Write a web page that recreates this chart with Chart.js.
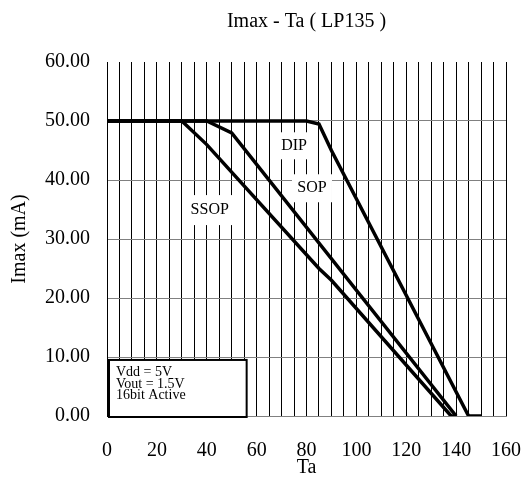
<!DOCTYPE html>
<html>
<head>
<meta charset="utf-8">
<script src="https://cdn.jsdelivr.net/npm/chart.js@4.4.1/dist/chart.umd.min.js"></script>
<style>
  body { margin: 0; background: #fff; }
  canvas { display: block; }
</style>
</head>
<body>
<canvas id="myChart" width="524" height="495"></canvas>
<script>
// datos
const dipTa  = [0, 80, 85, 90, 145, 150]
const dipI   = [50, 50, 49.5, 45, 0, 0]
const sopTa  = [0, 40, 50, 140]
const sopI   = [50, 50, 48, 0]
const ssopTa = [0, 30, 40, 85, 90, 138, 140]
const ssopI  = [50, 50, 46, 25, 23, 0, 0]

const xTickLabels = [0, 20, 40, 60, 80, 100, 120, 140, 160]
const noteLines = ['Vdd = 5V', 'Vout = 1.5V', '16bit Active']

const serif = '"Liberation Serif", "DejaVu Serif", serif'

const toPoints = (xs, ys) => xs.map((x, i) => ({ x, y: ys[i] }))

const serie = (label, xs, ys) => ({
    label,
    data: toPoints(xs, ys),
    borderColor: '#000',
    borderWidth: 3.5,
    pointRadius: 0,
    tension: 0,
    fill: false
})

// titulo, etiquetas de las curvas y el recuadro de condiciones
const extras = {
    id: 'extras',
    afterDatasetsDraw(chart) {
        const { ctx, chartArea, scales: { x, y } } = chart
        ctx.save()

        // etiquetas con fondo blanco
        const tags = [
            { text: 'DIP',  ta: 75,   i: 45.8, w: 32, h: 27 },
            { text: 'SOP',  ta: 82.2, i: 38.6, w: 40, h: 28 },
            { text: 'SSOP', ta: 41.2, i: 34.9, w: 46, h: 30 }
        ]
        ctx.font = '16px ' + serif
        ctx.textAlign = 'center'
        ctx.textBaseline = 'middle'
        tags.forEach(t => {
            const px = x.getPixelForValue(t.ta)
            const py = y.getPixelForValue(t.i)
            ctx.fillStyle = '#fff'
            ctx.fillRect(px - t.w / 2, py - t.h / 2, t.w, t.h)
            ctx.fillStyle = '#000'
            ctx.fillText(t.text, px, py)
        })

        // recuadro Vdd / Vout
        const bx = x.getPixelForValue(0) + 2
        const by = y.getPixelForValue(9.5)
        const bw = x.getPixelForValue(56) - bx
        const bh = chartArea.bottom + 1 - by
        ctx.fillStyle = '#fff'
        ctx.fillRect(bx, by, bw, bh)
        ctx.strokeStyle = '#000'
        ctx.lineWidth = 2
        ctx.strokeRect(bx, by, bw, bh)
        ctx.fillStyle = '#000'
        ctx.font = '14px ' + serif
        ctx.textAlign = 'left'
        ctx.textBaseline = 'alphabetic'
        noteLines.forEach((line, k) => {
            ctx.fillText(line, bx + 7, by + 16 + k * 11.7)
        })

        // titulo centrado sobre el area del grafico
        ctx.font = '20px ' + serif
        ctx.textAlign = 'center'
        ctx.textBaseline = 'middle'
        ctx.fillText('Imax - Ta ( LP135 )', (chartArea.left + chartArea.right) / 2, 22)

        ctx.restore()
    }
}

const ctx = document.getElementById('myChart')

new Chart(ctx, {
    type: 'line',
    data: {
        datasets: [
            serie('DIP', dipTa, dipI),
            serie('SOP', sopTa, sopI),
            serie('SSOP', ssopTa, ssopI)
        ]
    },
    plugins: [extras],
    options: {
        responsive: false,
        animation: false,
        layout: { padding: { top: 62, right: 0, bottom: 0, left: 0 } },
        plugins: {
            legend: { display: false },
            tooltip: { enabled: false }
        },
        scales: {
            x: {
                type: 'linear',
                min: 0,
                max: 160,
                afterFit: s => {
                    s.height = 79
                    s.paddingRight = 18   // el padding de las etiquetas no debe encoger el area
                },
                afterBuildTicks: s => {
                    s.ticks = []
                    for (let v = 0; v <= 160; v += 5) s.ticks.push({ value: v })
                },
                ticks: {
                    autoSkip: false,
                    maxRotation: 0,
                    padding: 23,
                    color: '#000',
                    font: { family: serif, size: 20 },
                    callback: v => xTickLabels.includes(v) ? String(v) : ''
                },
                grid: { color: '#000', lineWidth: 1, drawTicks: false },
                border: { color: '#808080', width: 1 },
                title: {
                    display: true,
                    text: 'Ta',
                    color: '#000',
                    font: { family: serif, size: 20 },
                    padding: { top: 0, bottom: 15 }
                }
            },
            y: {
                min: 0,
                max: 60,
                afterFit: s => { s.width = 107 },
                ticks: {
                    stepSize: 10,
                    padding: 17,
                    color: '#000',
                    font: { family: serif, size: 20 },
                    callback: v => v.toFixed(2)
                },
                grid: {
                    color: c => c.tick && c.tick.value === 60 ? 'rgba(0,0,0,0)' : '#808080',
                    lineWidth: 1,
                    drawTicks: false
                },
                border: { color: '#000', width: 1 },
                title: {
                    display: true,
                    text: 'Imax (mA)',
                    color: '#000',
                    font: { family: serif, size: 20 },
                    padding: { top: 8, bottom: 0 }
                }
            }
        }
    }
})
</script>
</body>
</html>
